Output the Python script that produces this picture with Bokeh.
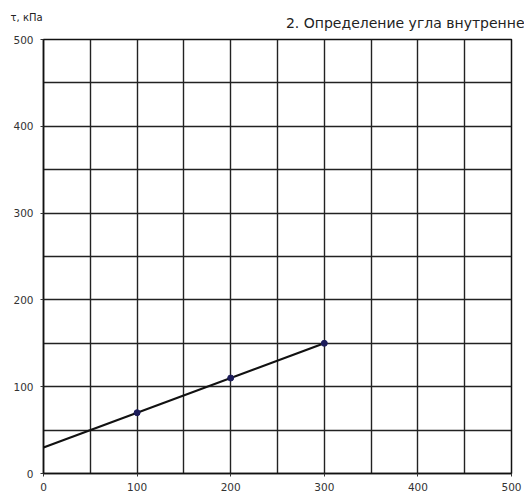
from bokeh.plotting import figure
from bokeh.models import Range1d, SingleIntervalTicker, Title
from bokeh.embed import file_html
from bokeh.resources import INLINE

# data
pts_x = [100, 200, 300]
pts_y = [70, 110, 150]
line_x = [0, 300]
line_y = [30, 150]
y_label = "τ, кПа"
title_text = "2. Определение угла внутренне"

FONT = "DejaVu Sans"

p = figure(width=524, height=496, output_backend="svg", toolbar_location=None,
           x_range=Range1d(0, 500), y_range=Range1d(0, 500),
           min_border_left=43, min_border_right=13, min_border_top=39, min_border_bottom=23)
p.background_fill_color = "white"
p.border_fill_color = "white"
p.outline_line_color = "#111111"
p.outline_line_width = 1.5

for ax in (p.xaxis[0], p.yaxis[0]):
    ax.ticker = SingleIntervalTicker(interval=100, num_minor_ticks=0)
    ax.axis_line_color = "#111111"
    ax.axis_line_width = 1.5
    ax.major_tick_out = 3
    ax.major_tick_in = 0
    ax.minor_tick_out = 0
    ax.minor_tick_in = 0
    ax.major_tick_line_color = "#333333"
    ax.major_label_text_font = FONT
    ax.major_label_text_font_size = "10.5px"
    ax.major_label_text_color = "#333333"
p.xaxis.major_label_standoff = 6
p.yaxis.major_label_standoff = 7

p.xgrid.ticker = SingleIntervalTicker(interval=50)
p.ygrid.ticker = SingleIntervalTicker(interval=50)
for g in (p.xgrid[0], p.ygrid[0]):
    g.grid_line_color = "#222222"
    g.grid_line_width = 1.4
    g.grid_line_alpha = 1.0

p.line(line_x, line_y, line_color="#111111", line_width=2.2)
p.scatter(pts_x, pts_y, marker="circle", size=6, fill_color="#1c1c5a", line_color="#1c1c5a")

p.add_layout(Title(text=title_text, align="right", offset=-13, text_font=FONT,
                   text_font_size="14px", text_font_style="normal", text_color="#222222",
                   standoff=17), "above")
p.add_layout(Title(text=y_label, align="left", offset=-33, text_font=FONT,
                   text_font_size="10px", text_font_style="normal", text_color="#222222",
                   standoff=-37), "above")

open("out.html", "w").write(file_html(p, INLINE))
